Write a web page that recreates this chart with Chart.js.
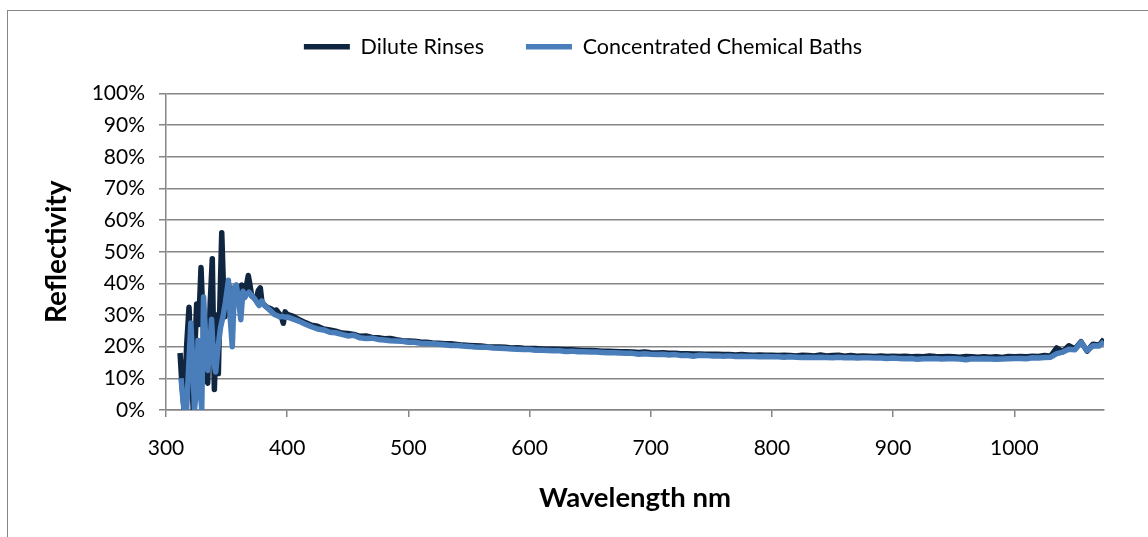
<!DOCTYPE html>
<html>
<head>
<meta charset="utf-8">
<script src="https://cdn.jsdelivr.net/npm/chart.js@4.4.0/dist/chart.umd.min.js"></script>
<style>
  html, body { margin: 0; background: #fff; overflow: hidden; }
  #frame { position: absolute; left: 7px; top: 10px; width: 1300px; height: 700px; border: 1px solid #868686; }
  #wrap { position: absolute; left: 0; top: 0; width: 1148px; height: 537px; }
</style>
</head>
<body>
<div id="frame"></div>
<div id="wrap"><canvas id="chart" width="1148" height="537"></canvas></div>
<script>
// noisy start of the spectrum, read point by point
const diluteHeadNm = [311.6, 313, 314.9, 317, 319, 321, 322.5, 324, 325.3, 327, 328.9, 331, 332.5, 334.4, 336.5, 338.2, 339.9, 341.9, 343.2, 344.5, 346, 347.5, 348.7, 350.2, 351.5, 353, 355, 357, 359, 361, 362.5, 364, 366, 367.9, 369.3, 370.7, 372.5, 374.5, 376.2, 377.8, 379.2, 381, 383, 385, 387.3, 389.2, 391, 393, 395, 396.8, 398.3];
const diluteHead = [18, 9, 0, 20, 32.5, 11, 0, 21, 33.5, 27, 45, 24, 11, 8.5, 34, 47.8, 6.5, 30, 11.5, 34, 56, 38, 29.5, 33, 40, 37, 35.5, 38.5, 36, 38, 39.5, 37.5, 38.5, 42.5, 39.5, 36, 35.5, 35, 37.8, 38.6, 34, 33.2, 32.6, 32.2, 31.8, 31.2, 31.6, 30.6, 29.8, 27.4, 31];

const concHeadNm = [312.4, 313.8, 315, 317, 318.5, 320.5, 322, 323.5, 325, 326.5, 328, 329.5, 331, 333, 334.5, 336, 337.6, 339.3, 341, 343, 345, 347, 349, 351.5, 353, 354.7, 356.5, 358, 360, 361.7, 363.5, 365, 366.5, 368.5, 370.7, 373, 375, 376.8, 379, 381, 383, 385, 387.3, 389.5, 392, 394, 396, 398.2];
const concHead = [10, 4, 0, 0, 12, 27.5, 16, 0, 6, 22, 8, 0, 35.7, 21, 12.5, 19, 28.7, 15, 12, 20, 26, 29.5, 34, 41, 29, 20, 38.9, 39.5, 34.5, 28.5, 37.5, 35.5, 36.5, 37.2, 36.2, 35.2, 34, 33, 34.5, 33.2, 32.4, 31.8, 31, 30.2, 29.8, 29.4, 29.6, 29.3];

// smoother tail, every 5 nm
const tailNm = [
  400, 405, 410, 415, 420, 425, 430, 435, 440, 445,
  450, 455, 460, 465, 470, 475, 480, 485, 490, 495,
  500, 505, 510, 515, 520, 525, 530, 535, 540, 545,
  550, 555, 560, 565, 570, 575, 580, 585, 590, 595,
  600, 605, 610, 615, 620, 625, 630, 635, 640, 645,
  650, 655, 660, 665, 670, 675, 680, 685, 690, 695,
  700, 705, 710, 715, 720, 725, 730, 735, 740, 745,
  750, 755, 760, 765, 770, 775, 780, 785, 790, 795,
  800, 805, 810, 815, 820, 825, 830, 835, 840, 845,
  850, 855, 860, 865, 870, 875, 880, 885, 890, 895,
  900, 905, 910, 915, 920, 925, 930, 935, 940, 945,
  950, 955, 960, 965, 970, 975, 980, 985, 990, 995,
  1000, 1005, 1010, 1015, 1020, 1025, 1030, 1035, 1040, 1045,
  1050, 1055, 1060, 1065, 1070, 1074
];
const diluteTail = [
  30.2, 29.6, 28.5, 27.6, 26.8, 26.5, 25.6, 25.3, 24.9, 24.3,
  24.2, 23.9, 23.3, 23.4, 22.9, 22.8, 22.5, 22.6, 22.2, 21.9,
  21.8, 21.7, 21.5, 21.4, 21.2, 21.1, 20.9, 20.9, 20.7, 20.5,
  20.4, 20.3, 20.2, 20.0, 19.9, 19.9, 19.8, 19.6, 19.7, 19.5,
  19.4, 19.4, 19.3, 19.2, 19.2, 19.1, 19.0, 19.0, 18.9, 18.8,
  18.8, 18.7, 18.6, 18.6, 18.5, 18.4, 18.4, 18.3, 18.2, 18.3,
  18.1, 18.0, 18.1, 17.9, 17.9, 17.8, 17.8, 17.7, 17.7, 17.6,
  17.6, 17.6, 17.5, 17.5, 17.4, 17.5, 17.4, 17.3, 17.4, 17.3,
  17.3, 17.2, 17.3, 17.2, 17.1, 17.3, 17.2, 17.1, 17.4, 17.1,
  17.2, 17.3, 17.0, 17.2, 17.0, 17.1, 17.0, 16.9, 17.1, 16.9,
  17.0, 16.9, 17.0, 16.8, 16.9, 16.8, 17.1, 16.9, 16.8, 16.9,
  16.8, 16.7, 16.9, 16.8, 16.7, 16.8, 16.7, 16.8, 16.6, 16.9,
  16.8, 16.9, 16.8, 17.0, 16.9, 17.2, 17.0, 19.6, 18.4, 20.3,
  19.3, 21.6, 18.6, 20.8, 20.5, 22.4
];
const concTail = [
  29.4, 28.7, 28.0, 27.1, 26.3, 25.6, 25.3, 24.6, 24.4, 23.9,
  23.4, 23.6, 22.8, 22.6, 22.7, 22.3, 22.1, 21.9, 21.8, 21.7,
  21.4, 21.4, 21.1, 21.0, 20.9, 20.8, 20.6, 20.4, 20.4, 20.2,
  20.1, 19.9, 19.8, 19.8, 19.6, 19.5, 19.4, 19.3, 19.2, 19.1,
  19.1, 18.9, 18.9, 18.8, 18.7, 18.7, 18.5, 18.6, 18.4, 18.4,
  18.3, 18.3, 18.2, 18.1, 18.1, 18.0, 17.9, 17.9, 17.6, 17.8,
  17.6, 17.5, 17.6, 17.4, 17.5, 17.2, 17.3, 17.0, 17.3, 17.2,
  17.1, 17.1, 17.0, 17.1, 16.9, 17.0, 16.9, 16.9, 16.8, 16.9,
  16.8, 16.8, 16.7, 16.8, 16.7, 16.6, 16.7, 16.6, 16.7, 16.6,
  16.5, 16.7, 16.5, 16.6, 16.4, 16.5, 16.5, 16.4, 16.4, 16.3,
  16.4, 16.3, 16.2, 16.3, 16.0, 16.2, 16.2, 16.3, 16.1, 16.2,
  16.2, 16.1, 15.9, 16.2, 16.1, 16.2, 16.1, 16.0, 16.1, 16.2,
  16.3, 16.3, 16.2, 16.5, 16.4, 16.6, 16.7, 17.8, 18.3, 19.2,
  19.0, 21.4, 18.8, 20.3, 20.2, 21.6
];

const xTicks = [300, 400, 500, 600, 700, 800, 900, 1000];
const yTicks = [0, 10, 20, 30, 40, 50, 60, 70, 80, 90, 100];

const GRID = "#868686";

function toPoints(nm, vals) {
  return nm.map((x, i) => ({x: x, y: vals[i]}));
}

const dilutePts = toPoints(diluteHeadNm.concat(tailNm), diluteHead.concat(diluteTail));
const concPts = toPoints(concHeadNm.concat(tailNm), concHead.concat(concTail));

// legend sits higher and further right than chart.js would put it
const legendNudge = {
  id: "legendNudge",
  afterLayout(chart) {
    const lg = chart.legend;
    lg.top -= 26; lg.bottom -= 26;
    lg.left += 31; lg.right += 31;
  }
};

Chart.defaults.font.family = "Lato";
Chart.defaults.color = "#000";

new Chart(document.getElementById("chart"), {
  type: "line",
  data: {
    datasets: [{
      label: "Dilute Rinses",
      data: dilutePts,
      borderColor: "#10253F",
      backgroundColor: "#10253F",
      borderWidth: 5.5,
      borderJoinStyle: "round",
      pointRadius: 0,
      order: 2
    }, {
      label: "Concentrated Chemical Baths",
      data: concPts,
      borderColor: "#4A7EBB",
      backgroundColor: "#4A7EBB",
      borderWidth: 5.5,
      borderJoinStyle: "round",
      pointRadius: 0,
      order: 1
    }]
  },
  options: {
    responsive: false,
    devicePixelRatio: 1,
    animation: false,
    layout: { padding: { top: 20, right: 44, bottom: 0, left: 0 } },
    plugins: {
      tooltip: { enabled: false },
      legend: {
        position: "top",
        labels: {
          usePointStyle: true,
          pointStyle: "line",
          pointStyleWidth: 46,
          boxHeight: 4,
          padding: 42,
          font: { size: 21.5 },
          sort: (a, b) => a.datasetIndex - b.datasetIndex
        }
      }
    },
    scales: {
      x: {
        type: "linear",
        min: 300,
        max: 1074,
        afterBuildTicks: s => { s.ticks = xTicks.map(v => ({value: v})); },
        afterFit: s => { s.height = 127; },
        ticks: { font: { size: 21 }, padding: 19, maxRotation: 0, autoSkip: false, callback: v => String(v) },
        grid: { drawOnChartArea: false, drawTicks: true, tickLength: 7, color: GRID, lineWidth: 1.5 },
        border: { color: GRID, width: 1.5 },
        title: { display: true, text: "Wavelength nm", font: { size: 27.5, weight: "bold" }, padding: { top: 0, bottom: 22 } }
      },
      y: {
        min: 0,
        max: 100,
        afterBuildTicks: s => { s.ticks = yTicks.map(v => ({value: v})); },
        afterFit: s => { s.width = 166; },
        ticks: { font: { size: 21 }, padding: 14, callback: v => v + "%" },
        grid: { tickLength: 7, color: GRID, lineWidth: 1.5 },
        border: { color: GRID, width: 1.5 },
        title: { display: true, text: "Reflectivity", font: { size: 28, weight: "bold" }, padding: { top: 40, bottom: 0 } }
      }
    }
  },
  plugins: [legendNudge]
});
</script>
</body>
</html>
